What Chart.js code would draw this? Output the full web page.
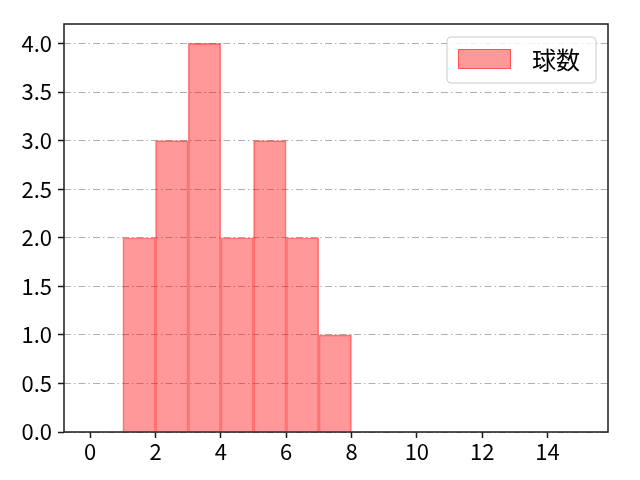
<!DOCTYPE html>
<html>
<head>
<meta charset="utf-8">
<script src="https://cdn.jsdelivr.net/npm/chart.js@4"></script>
<style>
  html, body { margin: 0; padding: 0; background: #fff; }
  #wrap { width: 640px; height: 480px; }
</style>
</head>
<body>
<div id="wrap"><canvas id="chart" width="640" height="480"></canvas></div>
<script>
// histogram bins (left edge, right edge) and counts
const binStarts = [1, 2, 3, 4, 5, 6, 7];
const binEnds = [2, 3, 4, 5, 6, 7, 8];
const counts = [2, 3, 4, 2, 3, 2, 1];
const seriesLabel = '球数';

const FONT = '"Noto Sans CJK JP", "DejaVu Sans", sans-serif';

// Frame around the plot area plus the boxed legend in the upper right
const framePlugin = {
    id: 'frame',
    afterDraw(chart) {
        const { ctx, chartArea: a } = chart;
        ctx.save();
        ctx.strokeStyle = '#1a1a1a';
        ctx.lineWidth = 1.5;
        ctx.strokeRect(a.left, a.top, a.right - a.left, a.bottom - a.top);

        // legend
        const ds = chart.data.datasets[0];
        const bx = 447, by = 37, bw = 149, bh = 46, r = 4;
        ctx.fillStyle = 'rgba(255,255,255,0.8)';
        ctx.strokeStyle = '#cccccc';
        ctx.lineWidth = 1;
        ctx.beginPath();
        ctx.roundRect(bx, by, bw, bh, r);
        ctx.fill();
        ctx.stroke();
        ctx.fillStyle = ds.backgroundColor;
        ctx.fillRect(458, 49, 53, 20);
        ctx.strokeStyle = ds.borderColor;
        ctx.strokeRect(458.5, 49.5, 52, 19);
        ctx.fillStyle = '#000';
        ctx.font = '24px ' + FONT;
        ctx.textBaseline = 'middle';
        ctx.fillText(ds.label, 532, 60);
        ctx.restore();
    }
};

const points = binStarts.map((s, i) => ({ x: (s + binEnds[i]) / 2, y: counts[i] }));

new Chart(document.getElementById('chart'), {
    type: 'bar',
    data: {
        datasets: [{
            label: seriesLabel,
            data: points,
            backgroundColor: 'rgba(255, 0, 0, 0.4)',
            borderColor: 'rgba(255, 0, 0, 0.45)',
            borderWidth: 1,
            barPercentage: 1.0,
            categoryPercentage: 1.0
        }]
    },
    options: {
        responsive: false,
        animation: false,
        devicePixelRatio: 1,
        layout: { padding: { left: 0, top: 24, right: 32, bottom: 0 } },
        plugins: {
            legend: { display: false },
            tooltip: { enabled: false }
        },
        scales: {
            x: {
                type: 'linear',
                min: -0.8,
                max: 15.85,
                offset: false,
                ticks: {
                    stepSize: 2,
                    includeBounds: false,
                    color: '#000',
                    font: { family: FONT, size: 22 },
                    padding: 0
                },
                grid: {
                    offset: false,
                    drawOnChartArea: false,
                    drawTicks: true,
                    tickLength: 6,
                    tickColor: '#1a1a1a',
                    tickWidth: 1.5
                },
                border: { display: false },
                afterFit: (scale) => { scale.height = 48; }
            },
            y: {
                min: 0,
                max: 4.2,
                ticks: {
                    stepSize: 0.5,
                    includeBounds: false,
                    color: '#000',
                    font: { family: FONT, size: 22 },
                    padding: 6,
                    callback: (v) => v.toFixed(1)
                },
                grid: {
                    color: '#b0b0b0',
                    lineWidth: 1,
                    drawTicks: true,
                    tickLength: 6,
                    tickColor: '#1a1a1a',
                    tickWidth: 1.5,
                    tickBorderDash: []
                },
                border: { display: false, dash: [7, 3, 1.5, 3] },
                afterFit: (scale) => { scale.width = 64; }
            }
        }
    },
    plugins: [framePlugin]
});
</script>
</body>
</html>
